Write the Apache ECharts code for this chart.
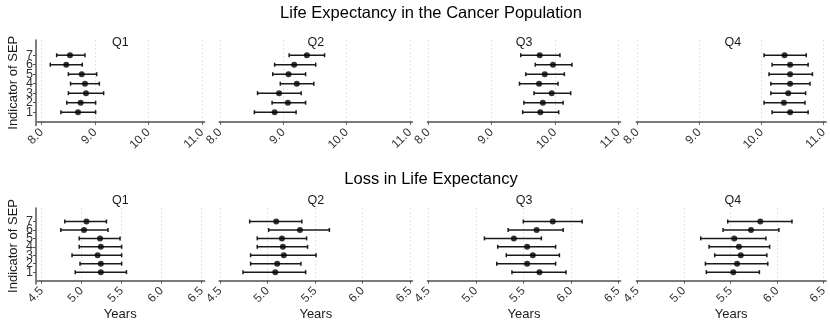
<!DOCTYPE html>
<html>
<head>
<meta charset="utf-8">
<script src="https://cdn.jsdelivr.net/npm/echarts@6/dist/echarts.min.js"></script>
<style>
  html, body { margin: 0; padding: 0; background: #fff; }
  #chart { width: 830px; height: 322px; }
</style>
</head>
<body>
<div id="chart"></div>
<script>
// Socio-economic position indicators and quartile panels
const sepLevels = [1, 2, 3, 4, 5, 6, 7];
const quarters = ['Q1', 'Q2', 'Q3', 'Q4'];
const lifeTicks = [8, 9, 10, 11];
const lossTicks = [4.5, 5, 5.5, 6, 6.5];

// Life expectancy in the cancer population (estimate, lower and upper bound), SEP 1..7
const lifeQ1 = [8.68, 8.73, 8.83, 8.81, 8.75, 8.46, 8.53];
const lifeQ1Low = [8.36, 8.47, 8.50, 8.54, 8.50, 8.16, 8.28];
const lifeQ1High = [9.01, 9.01, 9.16, 9.08, 9.03, 8.76, 8.81];

const lifeQ2 = [8.86, 9.07, 8.93, 9.21, 9.08, 9.17, 9.37];
const lifeQ2Low = [8.54, 8.82, 8.59, 8.95, 8.83, 8.86, 9.09];
const lifeQ2High = [9.20, 9.35, 9.28, 9.48, 9.35, 9.51, 9.65];

const lifeQ3 = [9.77, 9.81, 9.95, 9.75, 9.84, 9.97, 9.76];
const lifeQ3Low = [9.49, 9.51, 9.67, 9.44, 9.54, 9.69, 9.46];
const lifeQ3High = [10.06, 10.13, 10.25, 10.05, 10.15, 10.27, 10.08];

const lifeQ4 = [10.46, 10.36, 10.43, 10.46, 10.46, 10.46, 10.37];
const lifeQ4Low = [10.17, 10.04, 10.15, 10.15, 10.12, 10.17, 10.04];
const lifeQ4High = [10.75, 10.70, 10.71, 10.78, 10.82, 10.75, 10.72];

// Loss in life expectancy (estimate, lower and upper bound), SEP 1..7
const lossQ1 = [5.24, 5.24, 5.20, 5.24, 5.23, 5.03, 5.06];
const lossQ1Low = [4.92, 4.98, 4.88, 4.97, 4.97, 4.74, 4.79];
const lossQ1High = [5.56, 5.50, 5.50, 5.50, 5.48, 5.33, 5.31];

const lossQ2 = [5.08, 5.10, 5.17, 5.16, 5.15, 5.34, 5.09];
const lossQ2Low = [4.74, 4.82, 4.82, 4.89, 4.89, 5.01, 4.81];
const lossQ2High = [5.40, 5.35, 5.51, 5.42, 5.41, 5.65, 5.36];

const lossQ3 = [5.67, 5.54, 5.60, 5.54, 5.40, 5.64, 5.81];
const lossQ3Low = [5.38, 5.22, 5.32, 5.23, 5.09, 5.34, 5.50];
const lossQ3High = [5.95, 5.84, 5.88, 5.84, 5.69, 5.92, 6.12];

const lossQ4 = [5.53, 5.57, 5.61, 5.59, 5.54, 5.72, 5.82];
const lossQ4Low = [5.24, 5.23, 5.33, 5.27, 5.18, 5.42, 5.47];
const lossQ4High = [5.81, 5.90, 5.89, 5.92, 5.88, 6.02, 6.16];

const FONT = "'Liberation Sans', Arial, Helvetica, sans-serif";

const rows = [
  {
    title: 'Life Expectancy in the Cancer Population',
    est: [lifeQ1, lifeQ2, lifeQ3, lifeQ4],
    low: [lifeQ1Low, lifeQ2Low, lifeQ3Low, lifeQ4Low],
    high: [lifeQ1High, lifeQ2High, lifeQ3High, lifeQ4High],
    ticks: lifeTicks,
    range: [[7.893, 11.05], [7.985, 11.038], [7.985, 11.038], [7.985, 11.038]],
    top: 40, height: 85.5, titleY: 5, panelTitleY: 36, xName: ''
  },
  {
    title: 'Loss in Life Expectancy',
    est: [lossQ1, lossQ2, lossQ3, lossQ4],
    low: [lossQ1Low, lossQ2Low, lossQ3Low, lossQ4Low],
    high: [lossQ1High, lossQ2High, lossQ3High, lossQ4High],
    ticks: lossTicks,
    range: [[4.43, 6.535], [4.49, 6.524], [4.49, 6.524], [4.49, 6.524]],
    top: 208, height: 77.5, titleY: 171, panelTitleY: 194, xName: 'Years'
  }
];

// Horizontal placement of the four panels (left edge, width)
const panelBox = [[36, 168.5], [219.3, 193], [427.5, 193], [636.5, 192.5]];
const Y_MIN = -0.4, Y_MAX = 8.6;

// SEP labels are split over two stacked label layers so none of them is dropped
const oddLevels = sepLevels.filter(s => s % 2 === 1);
const evenLevels = sepLevels.filter(s => s % 2 === 0);
const yLabelStyle = {
  margin: 3, showMinLabel: true, showMaxLabel: true, hideOverlap: false,
  fontSize: 12.5, color: '#333', fontFamily: FONT
};

const grids = [], xAxes = [], yAxes = [], extraY = [], series = [], titles = [];

rows.forEach((row, r) => {
  titles.push({
    text: row.title, left: 431, top: row.titleY, textAlign: 'center', padding: 0,
    textStyle: { fontSize: 16.5, fontWeight: 'normal', color: '#000', fontFamily: FONT }
  });
  quarters.forEach((q, p) => {
    const idx = grids.length;
    const [left, width] = panelBox[p];
    grids.push({ left: left, top: row.top, width: width, height: row.height });
    titles.push({
      text: q, left: left + width / 2, top: row.panelTitleY, textAlign: 'center',
      padding: 0,
      textStyle: { fontSize: 12.5, fontWeight: 'normal', color: '#1a1a1a', fontFamily: FONT }
    });
    xAxes.push({
      type: 'value', gridIndex: idx,
      min: row.range[p][0], max: row.range[p][1],
      name: row.xName, nameLocation: 'middle', nameGap: 24,
      nameTextStyle: { fontSize: 13, color: '#1a1a1a', fontFamily: FONT },
      axisLine: { show: true, lineStyle: { color: '#7a7a7a', width: 1.8 } },
      axisTick: { show: true, customValues: row.ticks, length: 3, lineStyle: { color: '#555', width: 1 } },
      axisLabel: {
        customValues: row.ticks, rotate: 45, margin: 5,
        showMinLabel: true, showMaxLabel: true, hideOverlap: false,
        fontSize: 12, color: '#333', fontFamily: FONT,
        formatter: v => Number(v).toFixed(1)
      },
      splitLine: { show: true, lineStyle: { type: [2, 2], color: '#e4e4e4', width: 1 } }
    });
    yAxes.push({
      type: 'value', gridIndex: idx, min: Y_MIN, max: Y_MAX, position: 'left',
      show: p === 0,
      name: p === 0 ? 'Indicator of SEP' : '',
      nameLocation: 'middle', nameRotate: 90, nameGap: 16,
      nameTextStyle: { fontSize: 13, color: '#1a1a1a', fontFamily: FONT },
      axisLine: { show: true, lineStyle: { color: '#555', width: 1.5 } },
      axisTick: { show: true, customValues: sepLevels, length: 3, lineStyle: { color: '#555' } },
      axisLabel: Object.assign({ customValues: oddLevels }, yLabelStyle),
      splitLine: { show: false }
    });
    if (p === 0) {
      extraY.push({
        type: 'value', gridIndex: idx, min: Y_MIN, max: Y_MAX,
        position: 'left', offset: 0,
        axisLine: { show: false }, axisTick: { show: false }, splitLine: { show: false },
        axisLabel: Object.assign({ customValues: evenLevels }, yLabelStyle)
      });
    }

    const est = row.est[p], lo = row.low[p], hi = row.high[p];
    // Confidence intervals as capped horizontal bars
    series.push({
      type: 'custom', xAxisIndex: idx, yAxisIndex: idx,
      data: sepLevels.map((s, i) => [lo[i], hi[i], s]),
      encode: { x: [0, 1], y: 2 },
      silent: true,
      renderItem(params, api) {
        const a = api.coord([api.value(0), api.value(2)]);
        const b = api.coord([api.value(1), api.value(2)]);
        const cap = 2;
        const st = { stroke: '#1a1a1a', lineWidth: 1.5 };
        return {
          type: 'group',
          children: [
            { type: 'line', shape: { x1: a[0], y1: a[1], x2: b[0], y2: b[1] }, style: st },
            { type: 'line', shape: { x1: a[0], y1: a[1] - cap, x2: a[0], y2: a[1] + cap }, style: st },
            { type: 'line', shape: { x1: b[0], y1: b[1] - cap, x2: b[0], y2: b[1] + cap }, style: st }
          ]
        };
      }
    });
    // Point estimates
    series.push({
      type: 'scatter', xAxisIndex: idx, yAxisIndex: idx,
      data: sepLevels.map((s, i) => [est[i], s]),
      symbolSize: 6, itemStyle: { color: '#000' }, silent: true, z: 5
    });
  });
});

const chart = echarts.init(document.getElementById('chart'), null, { renderer: 'canvas' });
chart.setOption({
  animation: false,
  backgroundColor: '#fff',
  title: titles,
  grid: grids,
  xAxis: xAxes,
  yAxis: yAxes.concat(extraY),
  series: series
});
</script>
</body>
</html>
